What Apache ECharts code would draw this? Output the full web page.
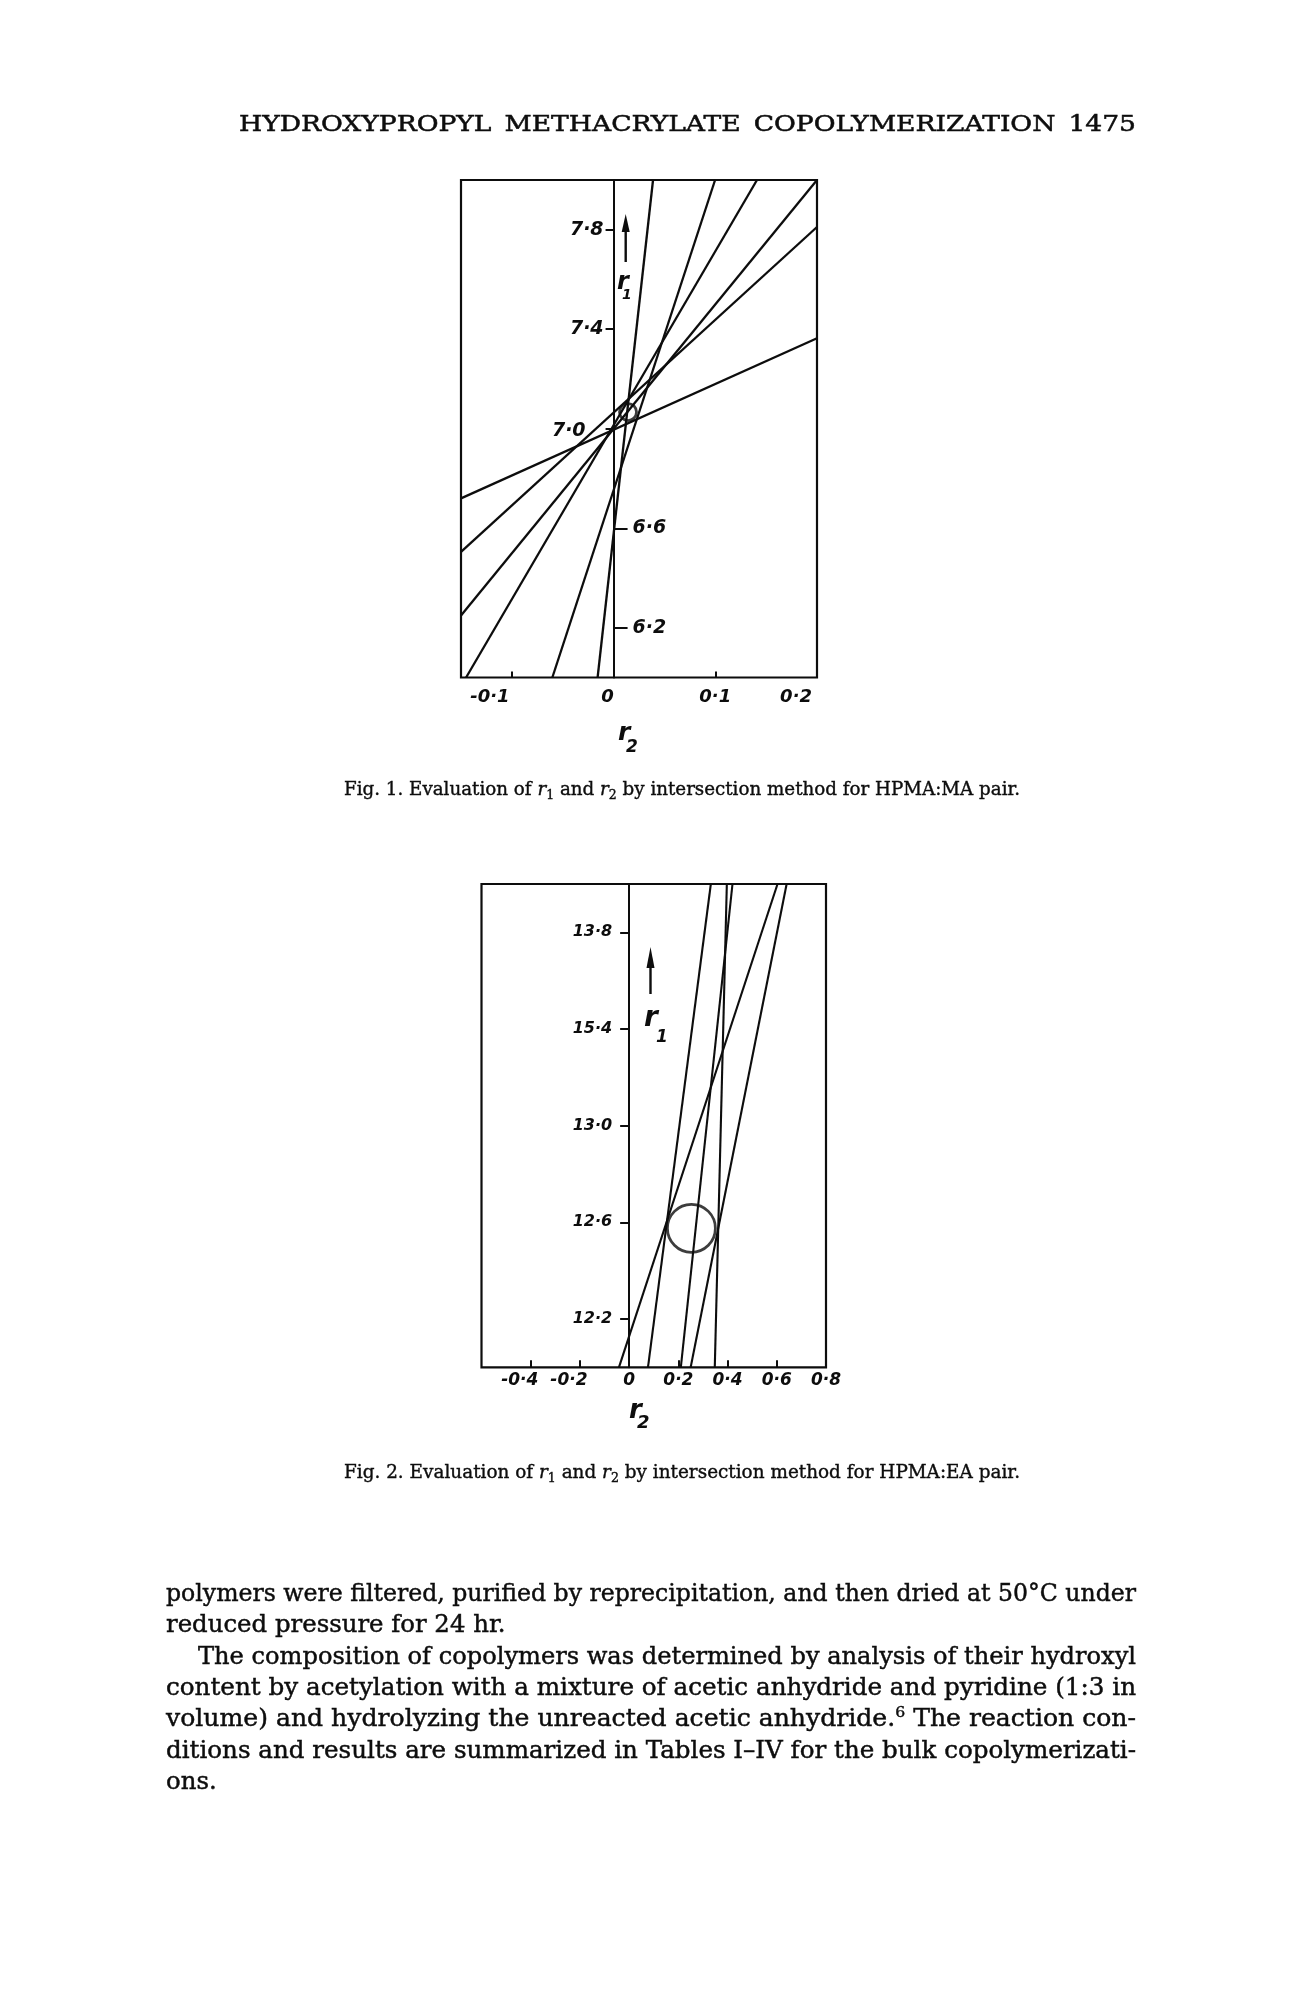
<!DOCTYPE html>
<html><head><meta charset="utf-8">
<script src="https://cdn.jsdelivr.net/npm/echarts@6/dist/echarts.min.js"></script>
<style>html,body{margin:0;padding:0;background:#fff}#c{width:1300px;height:2000px}</style>
</head><body><div id="c"></div>
<script>
// ---------------- data ----------------
const fig1XRange = [-0.15, 0.2];
const fig1YRange = [6.0, 8.0];
const fig1XTickValues = [-0.1, 0.1];
const fig1XLabelValues = [-0.1, 0, 0.1, 0.2];
const fig1XLabels = ['-0·1', '0', '0·1', '0·2'];
const fig1YLeftValues = [7.0, 7.4, 7.8];
const fig1YLeftLabels = ['7·0', '7·4', '7·8'];
const fig1YRightValues = [6.2, 6.6];
const fig1YRightLabels = ['6·2', '6·6'];
const fig1LineStarts = [[-0.0157, 6.0], [-0.0602, 6.0], [-0.145, 6.0], [-0.15, 6.249], [-0.15, 6.505], [-0.15, 6.720]];
const fig1LineEnds   = [[0.0388, 8.0], [0.0998, 8.0], [0.141, 8.0], [0.2, 8.0], [0.2, 7.811], [0.2, 7.364]];
const fig1Circle = [0.0142, 7.067];

const fig2XRange = [-0.6, 0.8];
const fig2YRange = [12.0, 14.0];
const fig2XTickValues = [-0.4, -0.2, 0.2, 0.4, 0.6];
const fig2XLabelValues = [-0.4, -0.2, 0, 0.2, 0.4, 0.6, 0.8];
const fig2XLabels = ['-0·4', '-0·2', '0', '0·2', '0·4', '0·6', '0·8'];
const fig2YValues = [12.2, 12.6, 13.0, 13.4, 13.8];
const fig2YLabels = ['12·2', '12·6', '13·0', '15·4', '13·8'];
const fig2LineStarts = [[-0.0415, 12.0], [0.0765, 12.0], [0.210, 12.0], [0.250, 12.0], [0.348, 12.0]];
const fig2LineEnds   = [[0.603, 14.0], [0.332, 14.0], [0.420, 14.0], [0.640, 14.0], [0.397, 14.0]];
const fig2Circle = [0.253, 12.575];

const headerText = 'HYDROXYPROPYL METHACRYLATE COPOLYMERIZATION 1475';
const caption1Runs = [['Fig. 1. Evaluation of '], ['r', 'i'], ['1', 'sub'], [' and '], ['r', 'i'], ['2', 'sub'], [' by intersection method for HPMA:MA pair.']];
const caption2Runs = [['Fig. 2. Evaluation of '], ['r', 'i'], ['1', 'sub'], [' and '], ['r', 'i'], ['2', 'sub'], [' by intersection method for HPMA:EA pair.']];
const bodyLines = [
  { runs: [['polymers were filtered, purified by reprecipitation, and then dried at 50°C under']], justify: true, indent: false },
  { runs: [['reduced pressure for 24 hr.']], justify: false, indent: false },
  { runs: [['The composition of copolymers was determined by analysis of their hydroxyl']], justify: true, indent: true },
  { runs: [['content by acetylation with a mixture of acetic anhydride and pyridine (1:3 in']], justify: true, indent: false },
  { runs: [['volume) and hydrolyzing the unreacted acetic anhydride.'], ['6', 'sup'], [' The reaction con-']], justify: true, indent: false },
  { runs: [['ditions and results are summarized in Tables I–IV for the bulk copolymerizati-']], justify: true, indent: false },
  { runs: [['ons.']], justify: false, indent: false }
];

// ---------------- layout constants ----------------
const G1 = { left: 461, top: 180, width: 356, height: 497.5 };
const G2 = { left: 481.5, top: 884, width: 344.5, height: 483.3 };

// ---------------- text helpers ----------------
const SERIF = 'DejaVu Serif';
const SANS = 'DejaVu Sans';
const INK = '#0d0d0d';
const ctx = document.createElement('canvas').getContext('2d');
function fstr(st) { return (st.fontStyle || 'normal') + ' ' + (st.fontWeight || 'normal') + ' ' + st.fontSize + 'px ' + st.fontFamily; }
function textW(t, st) { ctx.font = fstr(st); return ctx.measureText(t).width; }
const mbCache = {};
function midToBase(st) {
  const k = fstr(st);
  if (k in mbCache) return mbCache[k];
  ctx.font = k;
  ctx.textBaseline = 'alphabetic';
  const a = ctx.measureText('H').actualBoundingBoxAscent;
  ctx.textBaseline = 'middle';
  const b = ctx.measureText('H').actualBoundingBoxAscent;
  ctx.textBaseline = 'alphabetic';
  let v = a - b;
  if (!(v > 0 && v < st.fontSize)) v = 0.34 * st.fontSize;
  return (mbCache[k] = v);
}
function styleFor(kind, base, family) {
  if (kind === 'i') return { st: { fontSize: base, fontFamily: family, fontStyle: 'italic' }, dy: 0 };
  if (kind === 'sub') return { st: { fontSize: Math.round(base * 0.68), fontFamily: family }, dy: base * 0.2 };
  if (kind === 'sup') return { st: { fontSize: Math.round(base * 0.62), fontFamily: family }, dy: -base * 0.38 };
  return { st: { fontSize: base, fontFamily: family }, dy: 0 };
}
function tokenize(runs, base, family) {
  const out = [];
  runs.forEach(function (r) {
    const s = styleFor(r[1] || 'n', base, family);
    r[0].split(/( )/).forEach(function (p) {
      if (p === '') return;
      out.push({ text: p, st: s.st, dy: s.dy, space: p === ' ', w: textW(p, s.st) });
    });
  });
  return out;
}
function natural(tokens) { return tokens.reduce((a, t) => a + t.w, 0); }
function spaces(tokens) { return tokens.filter(t => t.space); }
function placeTokens(tokens, x0, baseline, scaleX, extra, els, strokeW) {
  let x = x0;
  tokens.forEach(function (t) {
    if (!t.space) {
      els.push({
        type: 'text', x: x, y: baseline + t.dy - midToBase(t.st), scaleX: scaleX, silent: true, z: 10,
        style: { text: t.text, fontSize: t.st.fontSize, fontFamily: t.st.fontFamily, fontStyle: t.st.fontStyle || 'normal',
          fontWeight: t.st.fontWeight || 'normal', fill: INK, stroke: INK, lineWidth: strokeW || 0,
          align: 'left', verticalAlign: 'middle' }
      });
    }
    x += t.w * scaleX + (t.space ? extra : 0);
  });
}
function label(text, st, x, baseline, els) {
  els.push({ type: 'text', x: x, y: baseline - midToBase(st), silent: true, z: 10,
    style: { text: text, fontSize: st.fontSize, fontFamily: st.fontFamily, fontStyle: st.fontStyle || 'normal',
      fontWeight: st.fontWeight || 'normal', fill: INK, align: 'left', verticalAlign: 'middle' } });
}

const els = [];
// running head: fixed gaps, horizontally fitted
(function () {
  const toks = tokenize([[headerText]], 23, SERIF);
  const sp = spaces(toks), W = 1136 - 239, gap = 13;
  const wordsW = natural(toks) - sp.reduce((a, t) => a + t.w, 0);
  const sx = (W - gap * sp.length) / wordsW;
  placeTokens(toks, 239, 131, sx, gap - sp[0].w * sx, els, 0.5);
})();
// captions: fitted to their measured span
[[caption1Runs, 795], [caption2Runs, 1478]].forEach(function (c) {
  const toks = tokenize(c[0], 19, SERIF);
  const sx = (1020 - 344) / natural(toks);
  placeTokens(toks, 344, c[1], sx, 0, els, 0.4);
});
// body paragraph: each full line fitted (justified), last lines at mean scale
(function () {
  const L = 166, R = 1136, IND = 32, base = 24, top = 1601, lead = 31.3;
  const tl = bodyLines.map(b => tokenize(b.runs, base, SERIF));
  const scales = [];
  bodyLines.forEach(function (b, i) {
    if (!b.justify) return;
    const avail = R - L - (b.indent ? IND : 0);
    scales.push(avail / natural(tl[i]));
  });
  const mean = scales.reduce((a, v) => a + v, 0) / scales.length;
  bodyLines.forEach(function (b, i) {
    const x0 = L + (b.indent ? IND : 0);
    const sx = b.justify ? (R - x0) / natural(tl[i]) : mean;
    placeTokens(tl[i], x0, top + i * lead, sx, 0, els, 0.45);
  });
})();
// figure axis titles r1 / r2 (hand-lettered style)
const hand = (s) => ({ fontSize: s, fontFamily: SANS, fontStyle: 'italic', fontWeight: 'bold' });
label('r', hand(24), 617, 289, els); label('1', hand(14), 622, 299, els);
label('r', hand(25), 618, 740, els); label('2', hand(17), 626, 752, els);
label('r', hand(28), 644, 1026, els); label('1', hand(17), 656, 1042, els);
label('r', hand(26), 629, 1418, els); label('2', hand(18), 637, 1428, els);
// arrows next to r1
[[625.7, 262, 228, 214], [650.5, 994, 964, 947]].forEach(function (a) {
  els.push({ type: 'line', silent: true, z: 10, shape: { x1: a[0], y1: a[1], x2: a[0], y2: a[2] }, style: { stroke: INK, lineWidth: 2.4 } });
  els.push({ type: 'polygon', silent: true, z: 10, shape: { points: [[a[0], a[3]], [a[0] - 4, a[2] + 4], [a[0] + 4, a[2] + 4]] }, style: { fill: INK } });
});

// ---------------- chart ----------------
function fmt(values, labels, richFor) {
  return function (v) {
    for (let i = 0; i < values.length; i++) {
      if (Math.abs(values[i] - v) < 1e-6) {
        const s = labels[i];
        const r = richFor ? richFor(s, i) : null;
        return r ? '{' + r + '|' + s + '}' : s;
      }
    }
    return '';
  };
}
const tickFont = (s) => ({ fontFamily: SANS, fontStyle: 'italic', fontWeight: 'bold', fontSize: s, color: INK });
const lineSt = { color: INK, width: 2 };
// pixel offset that puts a vertical axis on r2 = 0
const zeroFromLeft = (range, w) => -(0 - range[0]) / (range[1] - range[0]) * w;
const zeroFromRight = (range, w) => -(range[1] - 0) / (range[1] - range[0]) * w;

const option = {
  backgroundColor: '#ffffff',
  animation: false,
  grid: [
    Object.assign({ show: true, borderColor: INK, borderWidth: 2.2, backgroundColor: 'rgba(0,0,0,0)' }, G1),
    Object.assign({ show: true, borderColor: INK, borderWidth: 2.2, backgroundColor: 'rgba(0,0,0,0)' }, G2)
  ],
  xAxis: [
    { gridIndex: 0, type: 'value', min: fig1XRange[0], max: fig1XRange[1], position: 'bottom',
      axisLine: { show: false, onZero: false }, splitLine: { show: false },
      axisTick: { show: true, inside: true, length: 6, customValues: fig1XTickValues, lineStyle: lineSt },
      axisLabel: Object.assign({ customValues: fig1XLabelValues,
        formatter: fmt(fig1XLabelValues, fig1XLabels, (s, i) => s.charAt(0) === '-' ? 'neg' : (s === '0' ? 'zero' : (i === fig1XLabels.length - 1 ? 'last' : null))),
        margin: 11, showMinLabel: true, showMaxLabel: true, alignMaxLabel: 'right',
        rich: { neg: Object.assign({ padding: [0, 44, 0, 0] }, tickFont(18)),
                zero: Object.assign({ padding: [0, 12, 0, 0] }, tickFont(18)),
                last: Object.assign({ padding: [0, 5, 0, 0] }, tickFont(18)) } }, tickFont(18)) },
    { gridIndex: 1, type: 'value', min: fig2XRange[0], max: fig2XRange[1], position: 'bottom',
      axisLine: { show: false, onZero: false }, splitLine: { show: false },
      axisTick: { show: true, inside: true, length: 7, customValues: fig2XTickValues, lineStyle: lineSt },
      axisLabel: Object.assign({ customValues: fig2XLabelValues,
        formatter: fmt(fig2XLabelValues, fig2XLabels, (s) => s.charAt(0) === '-' ? 'neg' : null), margin: 5,
        showMinLabel: true, showMaxLabel: true,
        rich: { neg: Object.assign({ padding: [0, 22, 0, 0] }, tickFont(17)) } }, tickFont(17)) }
  ],
  yAxis: [
    { gridIndex: 0, type: 'value', min: fig1YRange[0], max: fig1YRange[1], position: 'left',
      offset: zeroFromLeft(fig1XRange, G1.width),
      axisLine: { show: true, onZero: false, lineStyle: lineSt }, splitLine: { show: false },
      axisTick: { show: true, length: 8, customValues: fig1YLeftValues, lineStyle: lineSt },
      axisLabel: Object.assign({ customValues: fig1YLeftValues,
        formatter: fmt(fig1YLeftValues, fig1YLeftLabels, (s, i) => i === 0 ? 'far' : null), margin: 10,
        rich: { far: Object.assign({ padding: [4, 18, 0, 0] }, tickFont(19)) } }, tickFont(19)) },
    { gridIndex: 0, type: 'value', min: fig1YRange[0], max: fig1YRange[1], position: 'right',
      offset: zeroFromRight(fig1XRange, G1.width),
      axisLine: { show: false, onZero: false }, splitLine: { show: false },
      axisTick: { show: true, length: 14, customValues: fig1YRightValues, lineStyle: lineSt },
      axisLabel: Object.assign({ customValues: fig1YRightValues, formatter: fmt(fig1YRightValues, fig1YRightLabels), margin: 19 }, tickFont(19)) },
    { gridIndex: 1, type: 'value', min: fig2YRange[0], max: fig2YRange[1], position: 'left',
      offset: zeroFromLeft(fig2XRange, G2.width),
      axisLine: { show: true, onZero: false, lineStyle: lineSt }, splitLine: { show: false },
      axisTick: { show: true, length: 9, customValues: fig2YValues, lineStyle: lineSt },
      axisLabel: Object.assign({ customValues: fig2YValues, formatter: fmt(fig2YValues, fig2YLabels), margin: 17 }, tickFont(16)) }
  ],
  series: [].concat(
    fig1LineStarts.map((s, i) => ({ type: 'line', xAxisIndex: 0, yAxisIndex: 0, data: [s, fig1LineEnds[i]], symbol: 'none', silent: true,
      lineStyle: { color: INK, width: 2.3 } })),
    fig2LineStarts.map((s, i) => ({ type: 'line', xAxisIndex: 1, yAxisIndex: 2, data: [s, fig2LineEnds[i]], symbol: 'none', silent: true,
      lineStyle: { color: INK, width: 2.1 } })),
    [
      { type: 'scatter', xAxisIndex: 0, yAxisIndex: 0, data: [fig1Circle], symbol: 'circle', symbolSize: 17, silent: true,
        itemStyle: { color: 'rgba(0,0,0,0)', borderColor: INK, borderWidth: 2.8 } },
      { type: 'scatter', xAxisIndex: 1, yAxisIndex: 2, data: [fig2Circle], symbol: 'circle', symbolSize: 48, silent: true,
        itemStyle: { color: 'rgba(0,0,0,0)', borderColor: INK, borderWidth: 2.8 } }
    ]
  ),
  graphic: { elements: els }
};

const chart = echarts.init(document.getElementById('c'), null, { renderer: 'canvas', width: 1300, height: 2000 });
chart.setOption(option);
</script>
</body></html>
